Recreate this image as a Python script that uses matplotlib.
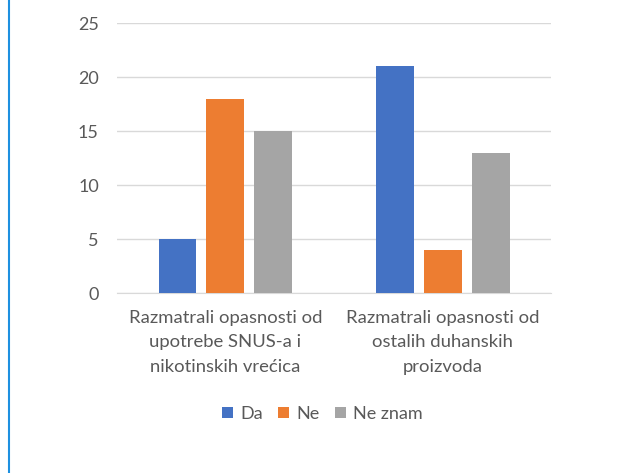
import matplotlib
matplotlib.use('Agg')
import numpy as np
import matplotlib.pyplot as plt

# data
categories = ['Razmatrali opasnosti od\nupotrebe SNUS-a i\nnikotinskih vrećica',
              'Razmatrali opasnosti od\nostalih duhanskih\nproizvoda']
series_names = ['Da', 'Ne', 'Ne znam']
da = [5, 21]
ne = [18, 4]
ne_znam = [15, 13]
y_ticks = [0, 5, 10, 15, 20, 25]

colors = ['#4472C4', '#ED7D31', '#A5A5A5']
text_color = '#595959'

plt.rcParams['font.family'] = ['Lato', 'DejaVu Sans']

fig = plt.figure(figsize=(6.22, 4.73), dpi=100)
ax = fig.add_axes([0.188, 0.3805, 0.698, 0.5705])

x = np.arange(len(categories))
width = 0.175
offset = 0.221
values = [da, ne, ne_znam]
for i in range(3):
    ax.bar(x + (i - 1) * offset, values[i], width, color=colors[i], label=series_names[i], zorder=3)

ax.set_xlim(-0.5, 1.5)
ax.set_ylim(0, 25)
ax.set_yticks(y_ticks)
ax.yaxis.grid(True, color='#d9d9d9', linewidth=1, zorder=0)
for s in ['top', 'right', 'left']:
    ax.spines[s].set_visible(False)
ax.spines['bottom'].set_color('#d9d9d9')
ax.tick_params(axis='both', length=0, colors=text_color, labelsize=13)
ax.tick_params(axis='y', pad=13)
ax.tick_params(axis='x', pad=12)
ax.set_xticks(x)
ax.set_xticklabels(categories, linespacing=1.65, fontsize=13.3)

leg = fig.legend(loc='center', bbox_to_anchor=(0.518, 0.125), ncol=3, frameon=False,
                 fontsize=13, handlelength=0.6, handleheight=0.6, handletextpad=0.4,
                 columnspacing=0.85)
for t in leg.get_texts():
    t.set_color(text_color)

# blue border line on the left
fig.add_artist(plt.Line2D([0.0145, 0.0145], [0, 1], color='#1E90E0', linewidth=1.5, transform=fig.transFigure))

plt.savefig('out.png', dpi=100)
